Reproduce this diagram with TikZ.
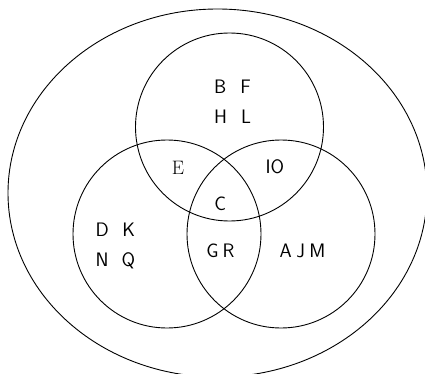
\documentclass[tikz,border=0pt]{standalone}
\begin{document}
\begin{tikzpicture}[x=1pt,y=-1pt,
  ring/.style={draw=black,line width=0.9pt},
  lab/.style={inner sep=0pt,text height=13.3pt,text depth=0pt,font=\fontsize{19.5}{19.5}\selectfont\sffamily},
  serlab/.style={inner sep=0pt,text height=13.3pt,text depth=0pt,font=\fontsize{19.5}{19.5}\selectfont\rmfamily}]
\useasboundingbox (0,0) rectangle (425,374);
\draw[ring] (217.5,193) ellipse [x radius=209.5, y radius=184];
\draw[ring] (229.5,127) circle [radius=94];
\draw[ring] (167,234) circle [radius=94];
\draw[ring] (281,234) circle [radius=94];
\node[lab] (B) at (220.3,87.3) {B};
\node[lab] (F) at (245.5,87.3) {F};
\node[lab] (H) at (220.5,117.3) {H};
\node[lab] (L) at (246,117.3) {L};
\node[serlab] (E) at (178,168.3) {E};
\node[lab] (IO) at (274.8,166.5) {IO};
\node[lab] (C) at (220.3,203.8) {C};
\node[lab] (D) at (102.3,230.3) {D};
\node[lab] (K) at (128.7,230.3) {K};
\node[lab] (N) at (102.2,260.3) {N};
\node[lab] (Q) at (128.5,260.3) {Q};
\node[lab] (GR) at (220.5,251.2) {G\hspace{4pt}R};
\node[lab] (AJM) at (302.5,251.2) {A\hspace{4.5pt}J\hspace{4.5pt}M};
\end{tikzpicture}
\end{document}
